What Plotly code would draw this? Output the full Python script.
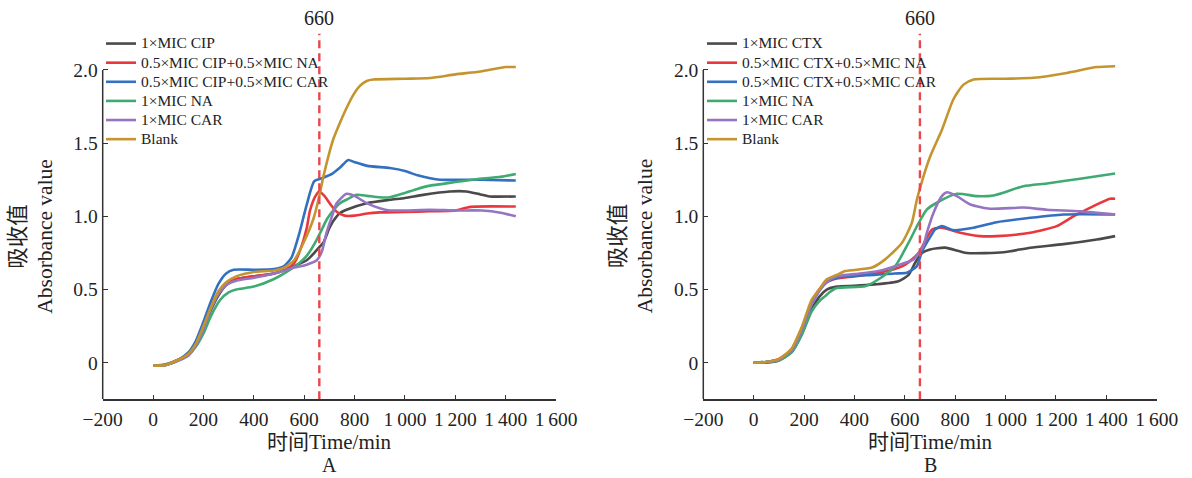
import plotly.graph_objects as go

# ---------------- Panel A data (time in min, absorbance) ----------------
A_cip_t = [0, 50, 100, 140, 170, 200, 230, 260, 290, 330, 400, 480, 560, 610, 640, 660, 676, 700, 716, 740, 768, 848, 940, 1000, 1072, 1178, 1244, 1300, 1336, 1440]
A_cip_v = [-0.02, -0.015, 0.02, 0.055, 0.12, 0.23, 0.36, 0.46, 0.53, 0.57, 0.59, 0.61, 0.66, 0.70, 0.75, 0.79, 0.82, 0.92, 0.97, 1.02, 1.045, 1.09, 1.113, 1.125, 1.147, 1.17, 1.17, 1.15, 1.136, 1.136]

A_cipna_t = [0, 50, 100, 140, 170, 200, 230, 260, 290, 330, 400, 480, 530, 560, 584, 610, 623, 645, 660, 680, 705, 730, 760, 800, 850, 900, 1000, 1100, 1200, 1260, 1440]
A_cipna_v = [-0.02, -0.015, 0.02, 0.06, 0.13, 0.25, 0.38, 0.48, 0.54, 0.57, 0.59, 0.61, 0.64, 0.68, 0.77, 0.92, 1.04, 1.14, 1.17, 1.14, 1.08, 1.03, 1.005, 1.005, 1.02, 1.027, 1.03, 1.035, 1.04, 1.065, 1.067]

A_cipcar_t = [0, 50, 100, 140, 170, 200, 230, 260, 290, 320, 400, 480, 520, 550, 580, 610, 640, 670, 710, 740, 775, 800, 850, 940, 1000, 1050, 1100, 1140, 1300, 1440]
A_cipcar_v = [-0.02, -0.01, 0.02, 0.07, 0.15, 0.28, 0.42, 0.54, 0.61, 0.635, 0.635, 0.64, 0.66, 0.72, 0.88, 1.08, 1.24, 1.26, 1.29, 1.33, 1.385, 1.37, 1.345, 1.33, 1.31, 1.28, 1.26, 1.25, 1.25, 1.245]

A_na_t = [0, 50, 100, 140, 170, 200, 230, 267, 300, 330, 400, 478, 544, 580, 610, 640, 663, 690, 710, 742, 775, 808, 850, 900, 940, 1000, 1046, 1100, 1151, 1200, 1284, 1380, 1440]
A_na_v = [-0.02, -0.015, 0.015, 0.05, 0.11, 0.2, 0.32, 0.43, 0.48, 0.50, 0.52, 0.57, 0.636, 0.68, 0.73, 0.81, 0.886, 0.98, 1.03, 1.09, 1.12, 1.147, 1.14, 1.13, 1.13, 1.16, 1.186, 1.21, 1.222, 1.235, 1.254, 1.27, 1.29]

A_car_t = [0, 50, 100, 140, 170, 200, 230, 260, 290, 330, 400, 480, 560, 610, 650, 670, 689, 710, 729, 768, 800, 848, 900, 940, 1000, 1100, 1200, 1305, 1380, 1440]
A_car_v = [-0.02, -0.015, 0.015, 0.05, 0.12, 0.23, 0.37, 0.47, 0.53, 0.56, 0.58, 0.61, 0.65, 0.67, 0.70, 0.76, 0.89, 1.0, 1.09, 1.154, 1.14, 1.09, 1.055, 1.04, 1.04, 1.045, 1.04, 1.04, 1.025, 1.0]

A_blank_t = [0, 50, 100, 140, 170, 200, 230, 260, 290, 330, 400, 480, 520, 560, 600, 636, 656, 676, 696, 716, 742, 768, 795, 820, 848, 874, 1000, 1100, 1200, 1300, 1400, 1440]
A_blank_v = [-0.02, -0.015, 0.02, 0.06, 0.13, 0.25, 0.38, 0.49, 0.55, 0.59, 0.62, 0.63, 0.65, 0.70, 0.83, 0.98, 1.11, 1.27, 1.41, 1.53, 1.64, 1.74, 1.83, 1.89, 1.925, 1.935, 1.94, 1.945, 1.97, 1.99, 2.02, 2.02]

# ---------------- Panel B data ----------------
B_ctx_t = [0, 50, 100, 150, 190, 230, 260, 290, 330, 400, 480, 575, 615, 641, 668, 700, 760, 846, 992, 1098, 1230, 1362, 1435]
B_ctx_v = [0, 0, 0.015, 0.07, 0.19, 0.36, 0.45, 0.50, 0.52, 0.525, 0.535, 0.557, 0.60, 0.683, 0.75, 0.774, 0.786, 0.75, 0.755, 0.786, 0.81, 0.842, 0.865]

B_ctxna_t = [0, 50, 100, 150, 190, 230, 260, 290, 330, 400, 480, 560, 602, 655, 708, 747, 820, 899, 965, 1098, 1203, 1269, 1349, 1415, 1435]
B_ctxna_v = [0, 0.005, 0.025, 0.09, 0.23, 0.41, 0.50, 0.55, 0.575, 0.59, 0.61, 0.64, 0.67, 0.75, 0.91, 0.922, 0.888, 0.865, 0.865, 0.888, 0.933, 1.0, 1.07, 1.12, 1.12]

B_ctxcar_t = [0, 50, 100, 150, 190, 230, 260, 290, 330, 400, 480, 560, 608, 648, 668, 701, 720, 747, 793, 873, 965, 1098, 1230, 1435]
B_ctxcar_v = [0, 0.005, 0.02, 0.085, 0.22, 0.40, 0.49, 0.55, 0.58, 0.595, 0.60, 0.61, 0.615, 0.66, 0.76, 0.86, 0.91, 0.933, 0.906, 0.922, 0.96, 0.99, 1.013, 1.013]

B_na_t = [0, 50, 100, 150, 190, 230, 260, 284, 300, 330, 443, 496, 562, 615, 655, 688, 727, 807, 886, 952, 1071, 1164, 1296, 1435]
B_na_v = [0, 0.005, 0.015, 0.07, 0.19, 0.35, 0.42, 0.455, 0.48, 0.51, 0.523, 0.57, 0.66, 0.82, 0.955, 1.047, 1.093, 1.154, 1.138, 1.143, 1.206, 1.225, 1.257, 1.293]

B_car_t = [0, 50, 100, 150, 190, 230, 260, 290, 330, 400, 496, 602, 635, 655, 674, 688, 714, 747, 767, 807, 860, 939, 1071, 1164, 1296, 1435]
B_car_v = [0, 0.005, 0.02, 0.085, 0.22, 0.40, 0.49, 0.55, 0.59, 0.605, 0.626, 0.683, 0.705, 0.75, 0.80, 0.89, 1.025, 1.138, 1.165, 1.138, 1.081, 1.052, 1.06, 1.045, 1.034, 1.013]

B_blank_t = [0, 50, 100, 150, 190, 230, 260, 290, 330, 364, 470, 522, 589, 628, 648, 670, 701, 747, 793, 833, 873, 1000, 1111, 1243, 1362, 1435]
B_blank_v = [0, 0.005, 0.025, 0.095, 0.24, 0.43, 0.50, 0.57, 0.60, 0.626, 0.65, 0.706, 0.82, 0.956, 1.115, 1.25, 1.41, 1.59, 1.80, 1.90, 1.935, 1.94, 1.947, 1.98, 2.02, 2.026]

names_A = ["1×MIC CIP", "0.5×MIC CIP+0.5×MIC NA", "0.5×MIC CIP+0.5×MIC CAR", "1×MIC NA", "1×MIC CAR", "Blank"]
names_B = ["1×MIC CTX", "0.5×MIC CTX+0.5×MIC NA", "0.5×MIC CTX+0.5×MIC CAR", "1×MIC NA", "1×MIC CAR", "Blank"]
colors = ["#4a4a4a", "#e8383d", "#3370c0", "#3faa72", "#9774c2", "#c4952f"]

x_ticks = [-200, 0, 200, 400, 600, 800, 1000, 1200, 1400, 1600]
x_ticktext = ["\u2212200", "0", "200", "400", "600", "800", "1\u2009000", "1\u2009200", "1\u2009400", "1\u2009600"]
y_ticks = [0, 0.5, 1.0, 1.5, 2.0]
y_ticktext = ["0", "0.5", "1.0", "1.5", "2.0"]
marker_time = 660

FONT = "'Liberation Serif', 'Times New Roman', 'Noto Sans CJK SC', serif"
TXT = "#222222"
LEG_TEXT_PX = 15.5   # visible legend text size (rows are spaced by the smaller legend font)

series_A = [(A_cip_t, A_cip_v), (A_cipna_t, A_cipna_v), (A_cipcar_t, A_cipcar_v),
            (A_na_t, A_na_v), (A_car_t, A_car_v), (A_blank_t, A_blank_v)]
series_B = [(B_ctx_t, B_ctx_v), (B_ctxna_t, B_ctxna_v), (B_ctxcar_t, B_ctxcar_v),
            (B_na_t, B_na_v), (B_car_t, B_car_v), (B_blank_t, B_blank_v)]


def leg_name(n):
    return f"<span style='font-size:{LEG_TEXT_PX}px'>{n}</span>"


fig = go.Figure()
for (t, v), n, c in zip(series_A, names_A, colors):
    fig.add_trace(go.Scatter(x=t, y=v, name=leg_name(n), mode="lines",
                             line=dict(color=c, width=2.6, shape="spline", smoothing=0.6),
                             xaxis="x", yaxis="y", legend="legend"))
for (t, v), n, c in zip(series_B, names_B, colors):
    fig.add_trace(go.Scatter(x=t, y=v, name=leg_name(n), mode="lines",
                             line=dict(color=c, width=2.6, shape="spline", smoothing=0.6),
                             xaxis="x2", yaxis="y2", legend="legend2"))

W, H = 1192, 478
ydom = [(H - 399.3) / H, (H - 33.4) / H]
xdomA = [102.7 / W, 556.1 / W]
xdomB = [703.3 / W, 1156.7 / W]

axis_common = dict(ticks="inside", ticklen=5, tickwidth=1.3, tickcolor="#333",
                   showgrid=False, zeroline=False, automargin=False,
                   tickfont=dict(family=FONT, size=19.5, color=TXT))
xcommon = dict(axis_common, range=[-200, 1600], tickvals=x_ticks, ticktext=x_ticktext,
               showline=True, linecolor="#333", linewidth=1.5, ticklabelstandoff=2)
ycommon = dict(axis_common, range=[-0.25, 2.25], tickvals=y_ticks, ticktext=y_ticktext,
               showline=False, ticklabelstandoff=4)

legend_common = dict(bgcolor="rgba(0,0,0,0)", font=dict(family=FONT, size=12.4, color=TXT),
                     xanchor="left", yanchor="top", tracegroupgap=0, itemwidth=30,
                     traceorder="normal")

fig.update_layout(
    template="none",
    width=W, height=H, margin=dict(l=0, r=0, t=0, b=0, pad=0, autoexpand=False),
    paper_bgcolor="white", plot_bgcolor="white",
    font=dict(family=FONT, color=TXT),
    xaxis=dict(xcommon, domain=xdomA, anchor="y"),
    yaxis=dict(ycommon, domain=ydom, anchor="x"),
    xaxis2=dict(xcommon, domain=xdomB, anchor="y2"),
    yaxis2=dict(ycommon, domain=ydom, anchor="x2"),
    legend=dict(legend_common, x=101 / W, y=(H - 29) / H),
    legend2=dict(legend_common, x=702 / W, y=(H - 29) / H),
)


def label(x, y, text, size=19, xref="paper", angle=0):
    return dict(xref=xref, yref="paper", x=x, y=y, text=text, textangle=angle,
                xanchor="center", yanchor="middle", showarrow=False,
                font=dict(family=FONT, size=size, color=TXT))


shapes = []
annotations = []
for xr, yr, cx, ax_px in [("x", "y", (xdomA[0] + xdomA[1]) / 2, 102.7), ("x2", "y2", (xdomB[0] + xdomB[1]) / 2, 703.3)]:
    shapes.append(dict(type="line", xref=xr + " domain", yref=yr, x0=0, x1=0, y0=-0.25, y1=2.0,
                       line=dict(color="#333", width=1.5)))
    shapes.append(dict(type="line", xref=xr, yref=yr, x0=marker_time, x1=marker_time, y0=-0.25, y1=2.25,
                       line=dict(color="#e8474c", width=2.4, dash="8px,5px")))
    annotations.append(label(marker_time, (H - 18) / H, str(marker_time), size=20, xref=xr))
    annotations.append(label(cx, (H - 442) / H, "时间Time/min", size=21))
    annotations.append(label((ax_px - 85) / W, (H - 236) / H, "吸收值", size=21.5, angle=-90))
    annotations.append(label((ax_px - 58) / W, (H - 236) / H, "Absorbance value", size=21.5, angle=-90))

annotations.append(label((xdomA[0] + xdomA[1]) / 2, (H - 465) / H, "A", size=20))
annotations.append(label((xdomB[0] + xdomB[1]) / 2, (H - 465) / H, "B", size=20))

fig.update_layout(shapes=shapes, annotations=annotations)
fig.write_html("out.html", config={"displayModeBar": False},
               post_script="document.body.style.margin='0';document.body.style.padding='0';")
